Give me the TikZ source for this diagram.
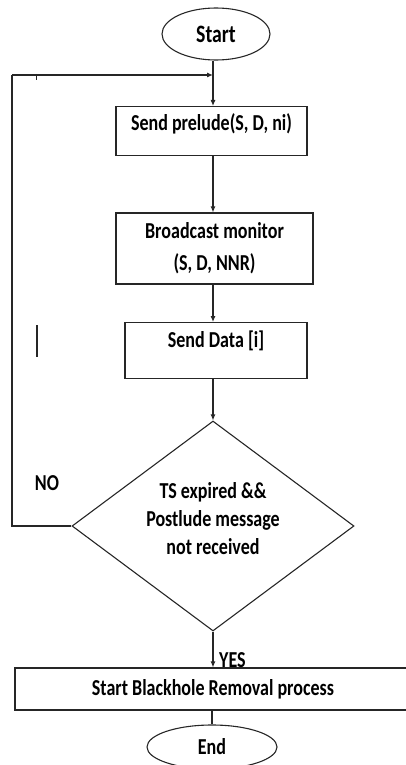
\documentclass[tikz,border=0pt]{standalone}
\usepackage{fontspec}
\setmainfont{Carlito}[FakeStretch=0.79]
\usetikzlibrary{shapes.geometric,arrows.meta}
\begin{document}
\begin{tikzpicture}[x=1pt,y=-1pt,
  every node/.style={font=\bfseries\fontsize{22.8pt}{26pt}\selectfont},
  line/.style={draw=black!85,line width=1.1pt},
  arr/.style={line,-{Latex[length=6pt,width=5pt]}},
  box/.style={line,rectangle,inner sep=0pt},
  term/.style={line,ellipse,inner sep=0pt}]
\useasboundingbox (0,0) rectangle (405,765);
\coordinate (col) at (213,0);
\node[term,minimum width=108pt,minimum height=52pt,font=\bfseries\fontsize{25pt}{28pt}\selectfont] (start) at (216,34) {Start};
\node[box,minimum width=191pt,text height=24pt,text depth=25pt,anchor=north] (prelude) at (211.5,106) {Send prelude(S, D, ni)};
\node[box,minimum width=197pt,minimum height=71pt,align=center,font=\bfseries\fontsize{22.8pt}{32pt}\selectfont] (bcast) at (214.5,248.5) {Broadcast monitor\\(S, D, NNR)};
\node[box,minimum width=182pt,text height=25pt,text depth=31pt,anchor=north] (data) at (216,322) {Send Data [i]};
\node[line,diamond,minimum width=282pt,minimum height=210pt,inner sep=0pt] (dec) at (213,526) {};
\node[align=center,font=\bfseries\fontsize{22.8pt}{28pt}\selectfont] (dtext) at (213,519) {TS expired \&\&\\Postlude message\\not received};
\node[box,minimum width=396pt,minimum height=42pt] (remove) at (213,689) {Start Blackhole Removal process};
\node[term,minimum width=130pt,minimum height=44pt] (stop) at (212,747) {End};
\node (no) at (47,483) {NO};
\node[anchor=west,inner sep=0pt] (yes) at (219,660) {YES};
\coordinate (loopL) at (12,526);
\coordinate (loopT) at (12,75);
\coordinate (t1a) at (36,74);
\coordinate (t1b) at (36,80);
\coordinate (t2a) at (37,325);
\coordinate (t2b) at (37,357);
% connectors
\draw[arr] (start.south -| col) -- (prelude.north -| col);
\draw[arr] (loopT) -- (loopT -| col);
\draw[arr] (prelude.south -| col) -- (bcast.north -| col);
\draw[arr] (bcast.south -| col) -- (data.north -| col);
\draw[arr] (data.south -| col) -- (dec.north);
\draw[line] (dec.west) -- (loopL) -- (loopT);
\draw[arr] (dec.south) -- (remove.north -| dec.south);
\draw[line] (remove.south -| stop.north) -- (stop.north);
\draw[line,line width=0.8pt] (t1a) -- (t1b);
\draw[line,line width=2pt] (t2a) -- (t2b);
\end{tikzpicture}
\end{document}
